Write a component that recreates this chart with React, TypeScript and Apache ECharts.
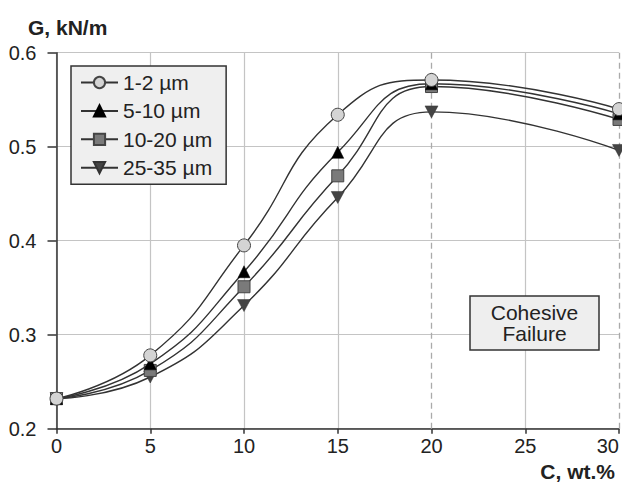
import React, { useEffect, useRef } from "react";
import * as echarts from "echarts";

const xValues = [0, 5, 10, 15, 20, 30];
const s1 = [0.232, 0.278, 0.395, 0.534, 0.571, 0.54];
const s2 = [0.232, 0.269, 0.367, 0.494, 0.567, 0.535];
const s3 = [0.232, 0.262, 0.351, 0.469, 0.564, 0.529];
const s4 = [0.232, 0.255, 0.331, 0.446, 0.537, 0.496];
const seriesNames = ["1-2 µm", "5-10 µm", "10-20 µm", "25-35 µm"];
const xTicks = [0, 5, 10, 15, 20, 25, 30];
const dashedX = [20, 30];

const FONT = "'Liberation Sans', Arial, sans-serif";

export default function App() {
  const ref = useRef<HTMLDivElement>(null);
  useEffect(() => {
    document.body.style.margin = "0";
    document.body.style.overflow = "hidden";
    if (!ref.current) return;
    const chart = echarts.init(ref.current, null, { renderer: "svg" });
    const toPts = (arr: number[]) => xValues.map((x, i) => [x, arr[i]]);
    const lineStyle = { color: "#333", width: 1.4 };
    const downTri = "path://M0,0 L10,0 L5,9 Z";
    const gridColors = xTicks.map((t) => (dashedX.includes(t) ? "rgba(0,0,0,0)" : "#c4c4c4"));
    const option: any = {
      animation: false,
      backgroundColor: "#fff",
      grid: {
        left: 56.5,
        right: 3,
        top: 52.7,
        bottom: 61.3,
        containLabel: false,
        outerBoundsMode: "none",
      },
      xAxis: {
        type: "value",
        min: 0,
        max: 30,
        interval: 5,
        axisLine: { show: true, lineStyle: { color: "#333", width: 1.5 } },
        axisTick: { show: true, length: 5, lineStyle: { color: "#333", width: 1.5 } },
        axisLabel: {
          fontSize: 20,
          color: "#222",
          fontFamily: FONT,
          margin: 7,
          hideOverlap: false,
          alignMaxLabel: "right",
        },
        splitLine: { show: true, lineStyle: { color: gridColors, width: 1.2 } },
      },
      yAxis: {
        type: "value",
        min: 0.2,
        max: 0.6,
        interval: 0.1,
        axisLine: { show: true, lineStyle: { color: "#333", width: 1.5 } },
        axisTick: { show: true, length: 9, lineStyle: { color: "#333", width: 1.5 } },
        axisLabel: {
          fontSize: 20,
          color: "#222",
          fontFamily: FONT,
          margin: 20,
          formatter: (v: number) => v.toFixed(1),
        },
        splitLine: { show: true, lineStyle: { color: "#c4c4c4", width: 1.2 } },
      },
      legend: {
        orient: "vertical",
        left: 71,
        top: 66,
        backgroundColor: "#efefef",
        borderColor: "#333",
        borderWidth: 1.5,
        borderRadius: 0,
        padding: [6, 14, 6, 9],
        itemWidth: 37,
        itemHeight: 14,
        itemGap: 7.4,
        textStyle: { fontSize: 21, color: "#222", fontFamily: FONT, lineHeight: 19 },
        data: seriesNames,
      },
      series: [
        {
          name: seriesNames[0],
          type: "line",
          smooth: 0.5,
          data: toPts(s1),
          symbol: "circle",
          symbolSize: 13,
          lineStyle,
          itemStyle: { color: "#d4d4d4", borderColor: "#444", borderWidth: 1 },
          z: 5,
          markLine: {
            silent: true,
            symbol: "none",
            label: { show: false },
            lineStyle: { color: "#aaa", type: [6, 4], width: 1.3 },
            data: dashedX.map((x) => ({ xAxis: x })),
            z: 1,
          },
        },
        {
          name: seriesNames[1],
          type: "line",
          smooth: 0.5,
          data: toPts(s2),
          symbol: "triangle",
          symbolSize: 12,
          lineStyle,
          itemStyle: { color: "#000", borderColor: "#000", borderWidth: 0.5 },
          z: 4,
        },
        {
          name: seriesNames[2],
          type: "line",
          smooth: 0.5,
          data: toPts(s3),
          symbol: "rect",
          symbolSize: 12,
          lineStyle,
          itemStyle: { color: "#7a7a7a", borderColor: "#444", borderWidth: 1 },
          z: 3,
        },
        {
          name: seriesNames[3],
          type: "line",
          smooth: 0.5,
          data: toPts(s4),
          symbol: downTri,
          symbolSize: [13, 12],
          lineStyle,
          itemStyle: { color: "#444", borderColor: "#333", borderWidth: 0.5 },
          z: 2,
        },
      ],
      graphic: [
        {
          type: "text",
          left: 28,
          top: 17,
          style: { text: "G, kN/m", font: `bold 21px ${FONT}`, fill: "#222" },
        },
        {
          type: "text",
          right: 7,
          top: 461,
          style: { text: "C, wt.%", font: `bold 21px ${FONT}`, fill: "#222" },
        },
        {
          type: "rect",
          shape: { x: 470, y: 296, width: 129, height: 54 },
          style: { fill: "#eeeeee", stroke: "#333", lineWidth: 1.5 },
          z: 10,
        },
        {
          type: "text",
          x: 534.5,
          y: 323,
          style: {
            text: "Cohesive\nFailure",
            font: `21px ${FONT}`,
            fill: "#222",
            align: "center",
            verticalAlign: "middle",
            lineHeight: 21,
          },
          z: 11,
        },
      ],
    };
    chart.setOption(option);
    return () => chart.dispose();
  }, []);
  return <div ref={ref} style={{ width: 622, height: 490 }} />;
}
